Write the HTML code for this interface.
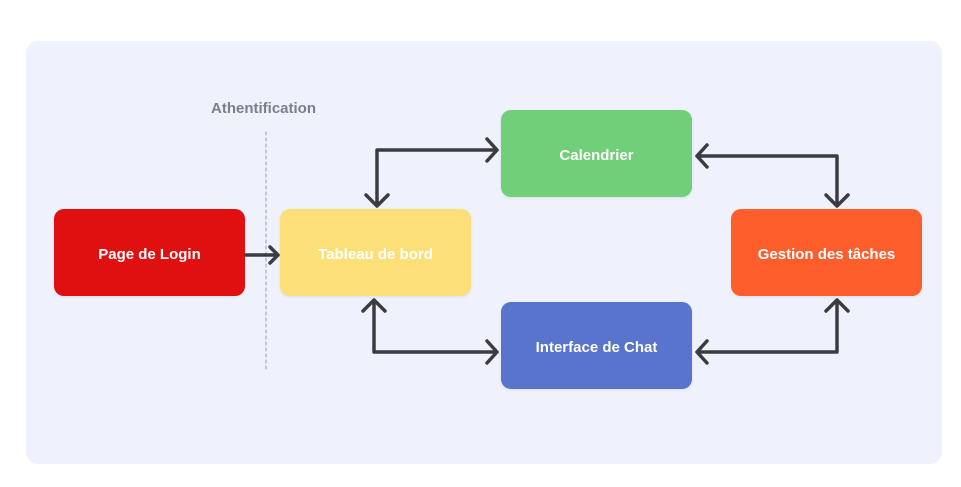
<!DOCTYPE html>
<html><head><meta charset="utf-8"><style>
body{margin:0;width:961px;height:487px;background:#fff;position:relative;font-family:"Liberation Sans",sans-serif;overflow:hidden}
.panel{position:absolute;left:26px;top:41px;width:916px;height:423px;background:#eff2fc;border-radius:12px}
.n{position:absolute;width:191px;height:87px;border-radius:10px;color:#fff;font-weight:bold;font-size:15px;display:flex;align-items:center;justify-content:center;box-shadow:0 1px 3px rgba(0,0,0,.08);padding-top:3px;box-sizing:border-box}
.lbl{position:absolute;left:211px;top:100px;color:#7a7f8a;font-size:15px;font-weight:bold}
svg{position:absolute;left:0;top:0}
</style></head><body>
<div class="panel"></div>
<div class="lbl">Athentification</div>
<div class="n" style="left:54px;top:209px;background:#e00f10">Page de Login</div>
<div class="n" style="left:280px;top:209px;background:#fbe07a">Tableau de bord</div>
<div class="n" style="left:501px;top:110px;background:#70cf78">Calendrier</div>
<div class="n" style="left:501px;top:302px;background:#5874cc">Interface de Chat</div>
<div class="n" style="left:731px;top:209px;background:#fd5e2b">Gestion des tâches</div>
<svg width="961" height="487" fill="none" stroke="#3a3c40" stroke-width="3.5" stroke-linecap="round" stroke-linejoin="round">
<line x1="266" y1="132" x2="266" y2="372" stroke="#9a9ea8" stroke-width="1" stroke-dasharray="3,3"/>
<path d="M246 255H278M270 247l8 8-8 8"/>
<path d="M377 205V150H497M487 139l10 11-10 11M366 195l11 11 11-11"/>
<path d="M697 156H837V205M707 145l-10 11 10 11M826 195l11 11 11-11"/>
<path d="M374 300V352H497M487 341l10 11-10 11M363 311l11-11 11 11"/>
<path d="M697 352H837V300M707 341l-10 11 10 11M826 311l11-11 11 11"/>
</svg>
</body></html>
